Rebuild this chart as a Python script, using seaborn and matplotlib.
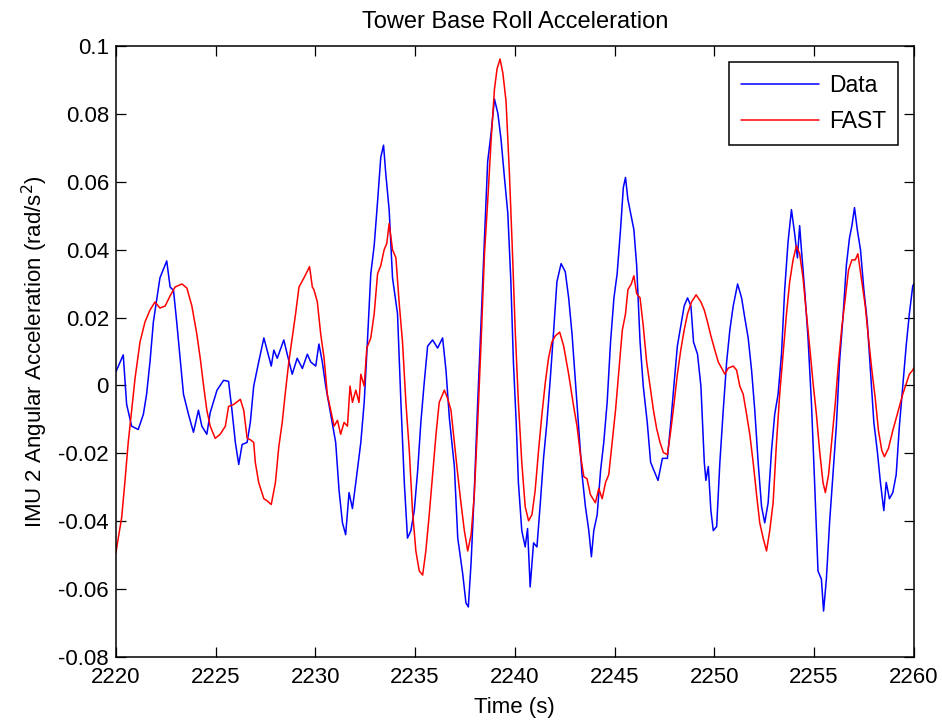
import pandas as pd
import numpy as np
import seaborn as sns
import matplotlib.pyplot as plt

# measured tower base roll acceleration (IMU 2)
data_t = [2220.0, 2220.37, 2220.54, 2220.79, 2221.12, 2221.38, 2221.54, 2221.71, 2221.88, 2222.21,
          2222.55, 2222.72, 2222.89, 2223.05, 2223.22, 2223.39, 2223.64, 2223.89, 2224.14, 2224.31,
          2224.56, 2224.73, 2225.07, 2225.40, 2225.65, 2225.82, 2225.99, 2226.16, 2226.33, 2226.58,
          2226.74, 2226.91, 2227.16, 2227.42, 2227.58, 2227.79, 2227.92, 2228.09, 2228.42, 2228.59,
          2228.84, 2229.09, 2229.35, 2229.60, 2229.77,
          2230.02, 2230.18, 2230.35, 2230.52, 2230.77, 2231.02, 2231.19, 2231.36, 2231.52, 2231.69,
          2231.86, 2232.03, 2232.28, 2232.45, 2232.61, 2232.78, 2232.95, 2233.12, 2233.28, 2233.42,
          2233.53, 2233.70, 2233.87, 2234.12, 2234.29, 2234.46, 2234.62, 2234.79, 2234.96, 2235.13,
          2235.29, 2235.46, 2235.63, 2235.88, 2236.13, 2236.38, 2236.55, 2236.72, 2236.97, 2237.14,
          2237.39, 2237.55, 2237.67, 2237.81, 2237.97, 2238.14, 2238.31, 2238.48, 2238.64, 2238.81,
          2238.98, 2239.15, 2239.31, 2239.48, 2239.65, 2239.80,
          2239.93, 2240.07, 2240.18, 2240.35, 2240.52, 2240.64, 2240.77, 2240.94, 2241.11, 2241.28,
          2241.44, 2241.61, 2241.78, 2241.95, 2242.11, 2242.32, 2242.53, 2242.70, 2242.87, 2243.04,
          2243.20, 2243.37, 2243.54, 2243.71, 2243.84, 2243.96, 2244.13, 2244.30, 2244.46, 2244.63,
          2244.80, 2244.97, 2245.13, 2245.30, 2245.44, 2245.55, 2245.67, 2245.81, 2245.97, 2246.11,
          2246.28, 2246.44, 2246.64, 2246.81, 2246.98, 2247.18, 2247.40, 2247.65, 2247.82, 2247.99,
          2248.15, 2248.32, 2248.49, 2248.66, 2248.83, 2248.96, 2249.16, 2249.33, 2249.50, 2249.58,
          2249.70, 2249.83, 2249.95,
          2250.12, 2250.28, 2250.45, 2250.62, 2250.78, 2250.95, 2251.17, 2251.37, 2251.53, 2251.70,
          2251.87, 2252.03, 2252.20, 2252.37, 2252.53, 2252.70, 2252.87, 2253.03, 2253.20, 2253.37,
          2253.53, 2253.70, 2253.87, 2254.03, 2254.17, 2254.28, 2254.37, 2254.53, 2254.70, 2254.87,
          2255.03, 2255.20, 2255.37, 2255.48, 2255.62, 2255.78, 2255.95, 2256.12, 2256.28, 2256.45,
          2256.62, 2256.78, 2256.90, 2257.03, 2257.17, 2257.33, 2257.50, 2257.67, 2257.83, 2258.00,
          2258.17, 2258.33, 2258.50, 2258.62, 2258.78, 2258.95, 2259.12, 2259.28, 2259.45, 2259.62,
          2259.78, 2259.95, 2260.0]
data_v = [0.004, 0.009, -0.0056, -0.012, -0.013, -0.0085, -0.0026, 0.0069, 0.0187, 0.0317,
          0.0367, 0.029, 0.028, 0.0187, 0.008, -0.0026, -0.0085, -0.0138, -0.0073, -0.012,
          -0.0144, -0.008, -0.0014, 0.0015, 0.0012, -0.0073, -0.0168, -0.0233, -0.0174, -0.0168,
          -0.0109, -0.0002, 0.0069, 0.014, 0.0104, 0.0057, 0.0104, 0.008, 0.0134, 0.0092,
          0.0033, 0.008, 0.005, 0.0092, 0.0069,
          0.0057, 0.0122, 0.0069, -0.0002, -0.0085, -0.0168, -0.031, -0.0405, -0.044, -0.0316,
          -0.0363, -0.0286, -0.0168, -0.005, 0.0128, 0.0329, 0.0412, 0.0542, 0.0672, 0.0708,
          0.0625, 0.0518, 0.0317, 0.0211, -0.005, -0.0286, -0.045, -0.0428, -0.0369, -0.0251,
          -0.0109, 0.0009, 0.0116, 0.0134, 0.011, 0.014, 0.0045, -0.0097, -0.0239, -0.045,
          -0.0556, -0.0641, -0.0653, -0.0521, -0.031, -0.005, 0.0187, 0.0435, 0.066, 0.0743,
          0.0844, 0.0802, 0.0725, 0.0613, 0.0507, 0.031,
          0.0069, -0.0109, -0.0286, -0.0428, -0.0476, -0.0422, -0.0594, -0.0464, -0.0476, -0.0346,
          -0.0215, -0.0109, 0.0021, 0.0163, 0.0305, 0.0359, 0.0335, 0.0258, 0.0151, 0.0009,
          -0.012, -0.0263, -0.0357, -0.0428, -0.0505, -0.0428, -0.0381, -0.0251, -0.0168, -0.005,
          0.0128, 0.0258, 0.0329, 0.0459, 0.0583, 0.0613, 0.0548, 0.0507, 0.0459, 0.0353,
          0.0128, -0.0002, -0.0109, -0.0227, -0.0251, -0.028, -0.0215, -0.0215, -0.0109, 0.0009,
          0.0116, 0.0175, 0.0234, 0.0258, 0.0234, 0.0128, 0.0092, -0.0002, -0.0227, -0.028,
          -0.0239, -0.0369, -0.0428,
          -0.0416, -0.0227, -0.0073, 0.0069, 0.0163, 0.0234, 0.0299, 0.0258, 0.0199, 0.014,
          0.0045, -0.0073, -0.0227, -0.0357, -0.0405, -0.0346, -0.0192, -0.0085, -0.0026, 0.0092,
          0.0282, 0.0424, 0.0518, 0.0447, 0.0376, 0.0471, 0.04, 0.0282, 0.014, -0.005,
          -0.0286, -0.0547, -0.0571, -0.0665, -0.0571, -0.0405, -0.0263, -0.012, 0.0069, 0.0199,
          0.0353, 0.0435, 0.0471, 0.0524, 0.0459, 0.04, 0.0282, 0.0187, 0.0045, -0.0109,
          -0.0192, -0.0286, -0.0369, -0.0286, -0.0334, -0.0316, -0.0263, -0.012, -0.0002, 0.0116,
          0.0211, 0.0293, 0.0299]

# FAST simulation
fast_t = [2220.0, 2220.12, 2220.29, 2220.45, 2220.62, 2220.79, 2220.96, 2221.21, 2221.46, 2221.71,
          2221.96, 2222.21, 2222.47, 2222.72, 2222.97, 2223.31, 2223.56, 2223.81, 2224.06, 2224.23,
          2224.40, 2224.56, 2224.73, 2224.98, 2225.23, 2225.49, 2225.65, 2225.91, 2226.24, 2226.41,
          2226.58, 2226.74, 2226.91, 2226.99, 2227.16, 2227.42, 2227.58, 2227.79, 2228.00, 2228.17,
          2228.34, 2228.51, 2228.67, 2228.84, 2229.01, 2229.18, 2229.43, 2229.71, 2229.85,
          2229.93, 2230.10, 2230.27, 2230.44, 2230.60, 2230.77, 2230.94, 2231.11, 2231.27, 2231.44,
          2231.61, 2231.74, 2231.86, 2232.03, 2232.19, 2232.28, 2232.45, 2232.58, 2232.78, 2232.95,
          2233.12, 2233.28, 2233.45, 2233.58, 2233.70, 2233.87, 2234.04, 2234.20, 2234.37, 2234.54,
          2234.71, 2234.87, 2235.04, 2235.21, 2235.38, 2235.54, 2235.71, 2235.88, 2236.05, 2236.21,
          2236.38, 2236.47, 2236.63, 2236.80, 2236.97, 2237.14, 2237.30, 2237.47, 2237.64, 2237.81,
          2237.97, 2238.14, 2238.31, 2238.48, 2238.64, 2238.81, 2238.98, 2239.11, 2239.26, 2239.40,
          2239.56, 2239.73,
          2239.90, 2240.02, 2240.18, 2240.35, 2240.52, 2240.69, 2240.86, 2241.02, 2241.19, 2241.36,
          2241.53, 2241.69, 2241.86, 2242.03, 2242.25, 2242.45, 2242.70, 2242.95, 2243.12, 2243.29,
          2243.46, 2243.62, 2243.79, 2244.04, 2244.21, 2244.38, 2244.55, 2244.71, 2244.88, 2245.05,
          2245.22, 2245.39, 2245.55, 2245.67, 2245.84, 2245.97, 2246.11, 2246.28, 2246.44, 2246.61,
          2246.78, 2246.95, 2247.11, 2247.28, 2247.45, 2247.65, 2247.82, 2247.99, 2248.15, 2248.32,
          2248.49, 2248.66, 2248.86, 2249.09, 2249.33, 2249.50, 2249.66, 2249.83, 2250.00,
          2250.20, 2250.37, 2250.53, 2250.70, 2250.95, 2251.12, 2251.28, 2251.45, 2251.62, 2251.78,
          2251.95, 2252.12, 2252.28, 2252.45, 2252.62, 2252.78, 2252.95, 2253.12, 2253.28, 2253.45,
          2253.62, 2253.78, 2253.95, 2254.12, 2254.28, 2254.45, 2254.62, 2254.78, 2254.95, 2255.12,
          2255.28, 2255.45, 2255.57, 2255.73, 2255.90, 2256.07, 2256.23, 2256.40, 2256.57, 2256.73,
          2256.90, 2257.07, 2257.20, 2257.40, 2257.57, 2257.73, 2257.90, 2258.07, 2258.23, 2258.40,
          2258.53, 2258.73, 2258.95, 2259.12, 2259.28, 2259.45, 2259.62, 2259.78, 2259.95, 2260.0]
fast_v = [-0.0494, -0.045, -0.039, -0.0286, -0.0168, -0.0073, 0.002, 0.0128, 0.0187, 0.0222,
          0.0246, 0.0228, 0.0234, 0.0264, 0.029, 0.0299, 0.0287, 0.0234, 0.0151, 0.008,
          -0.0002, -0.0073, -0.012, -0.0156, -0.0144, -0.012, -0.0062, -0.0056, -0.0041, -0.0073,
          -0.0156, -0.016, -0.0168, -0.0227, -0.0286, -0.0334, -0.034, -0.0351, -0.0286, -0.018,
          -0.0109, -0.0014, 0.0069, 0.014, 0.0211, 0.029, 0.0317, 0.035, 0.029,
          0.0282, 0.0246, 0.0151, 0.008, -0.0026, -0.0073, -0.012, -0.0103, -0.0144, -0.0109,
          -0.012, -0.0002, -0.005, -0.0014, -0.005, 0.0033, -0.0002, 0.011, 0.014, 0.0211,
          0.0329, 0.0353, 0.04, 0.0418, 0.0477, 0.04, 0.0376, 0.0246, 0.0128, -0.005,
          -0.0192, -0.0369, -0.0488, -0.0547, -0.0559, -0.0488, -0.0381, -0.0263, -0.0144, -0.005,
          -0.0026, -0.0014, -0.0038, -0.0073, -0.0168, -0.0263, -0.0346, -0.0428, -0.0488, -0.044,
          -0.0322, -0.0109, 0.0128, 0.0388, 0.0542, 0.072, 0.0873, 0.0933, 0.0962, 0.0921,
          0.0838, 0.0625,
          0.0364, 0.0163, -0.005, -0.0227, -0.0357, -0.0399, -0.0381, -0.031, -0.0192, -0.0085,
          0.0009, 0.008, 0.0128, 0.0146, 0.0157, 0.0116, 0.0033, -0.0062, -0.012, -0.0204,
          -0.0269, -0.0275, -0.0322, -0.0346, -0.0304, -0.0334, -0.0286, -0.0263, -0.0168, -0.0073,
          0.0045, 0.0163, 0.0211, 0.0282, 0.0299, 0.0323, 0.027, 0.0258, 0.0175, 0.0069,
          -0.0002, -0.0073, -0.0127, -0.0168, -0.0198, -0.0204, -0.0133, -0.005, 0.0033, 0.0104,
          0.0163, 0.0211, 0.0246, 0.0267, 0.0246, 0.0222, 0.0187, 0.0146, 0.011,
          0.0069, 0.0051, 0.0033, 0.0051, 0.0057, 0.0045, -0.0002, -0.0026, -0.0085, -0.0144,
          -0.0227, -0.0322, -0.0405, -0.045, -0.0488, -0.0428, -0.0346, -0.0168, -0.0026, 0.0092,
          0.0211, 0.0305, 0.037, 0.0412, 0.0388, 0.0317, 0.0211, 0.0116, 0.0009, -0.0085,
          -0.0192, -0.0286, -0.0316, -0.0263, -0.0156, -0.005, 0.0069, 0.0175, 0.0258, 0.034,
          0.037, 0.037, 0.0388, 0.0305, 0.0234, 0.014, 0.0045, -0.0038, -0.0133, -0.0192,
          -0.021, -0.0186, -0.0133, -0.0097, -0.0062, -0.0026, 0.0004, 0.0033, 0.0045, 0.0051]

x_ticks = [2220, 2225, 2230, 2235, 2240, 2245, 2250, 2255, 2260]
y_ticks = [-0.08, -0.06, -0.04, -0.02, 0, 0.02, 0.04, 0.06, 0.08, 0.1]
y_tick_labels = ['-0.08', '-0.06', '-0.04', '-0.02', '0', '0.02', '0.04', '0.06', '0.08', '0.1']

sns.set_style('ticks')
plt.rcParams['font.family'] = ['Liberation Sans', 'DejaVu Sans']
plt.rcParams['axes.unicode_minus'] = False
plt.rcParams['text.color'] = 'black'
plt.rcParams['axes.labelcolor'] = 'black'

df_data = pd.DataFrame({'t': data_t, 'v': data_v})
df_fast = pd.DataFrame({'t': fast_t, 'v': fast_v})

fig = plt.figure(figsize=(9.42, 7.21), dpi=100)
ax = fig.add_axes([0.123, 0.089, 0.847, 0.847])

sns.lineplot(data=df_data, x='t', y='v', color='#0000ff', lw=1.1, label='Data',
             estimator=None, sort=False, ax=ax)
sns.lineplot(data=df_fast, x='t', y='v', color='#ff0000', lw=1.1, label='FAST',
             estimator=None, sort=False, ax=ax)

ax.set_xlim(2220, 2260)
ax.set_ylim(-0.08, 0.1)
ax.set_xticks(x_ticks)
ax.set_yticks(y_ticks)
ax.set_yticklabels(y_tick_labels)
ax.tick_params(direction='in', top=True, right=True, length=7, width=0.9,
               labelsize=16, colors='black')
ax.tick_params(axis='x', pad=7)
ax.tick_params(axis='y', pad=5)
for s in ax.spines.values():
    s.set_linewidth(1.1)
    s.set_color('black')

ax.set_title('Tower Base Roll Acceleration', fontsize=17, pad=13, color='black')
ax.set_xlabel('Time (s)', fontsize=16, labelpad=7, color='black')
ax.set_ylabel('IMU 2 Angular Acceleration (rad/s$^2$)', fontsize=16, labelpad=6, color='black')

leg = ax.legend(loc='upper right', fontsize=16.5, fancybox=False, framealpha=1,
                edgecolor='black', handlelength=3.4, handletextpad=0.45,
                borderaxespad=0.7, labelspacing=0.6, borderpad=0.5)
leg.get_frame().set_linewidth(1.1)
for txt in leg.get_texts():
    txt.set_color('black')

plt.savefig('out.png', dpi=100)
